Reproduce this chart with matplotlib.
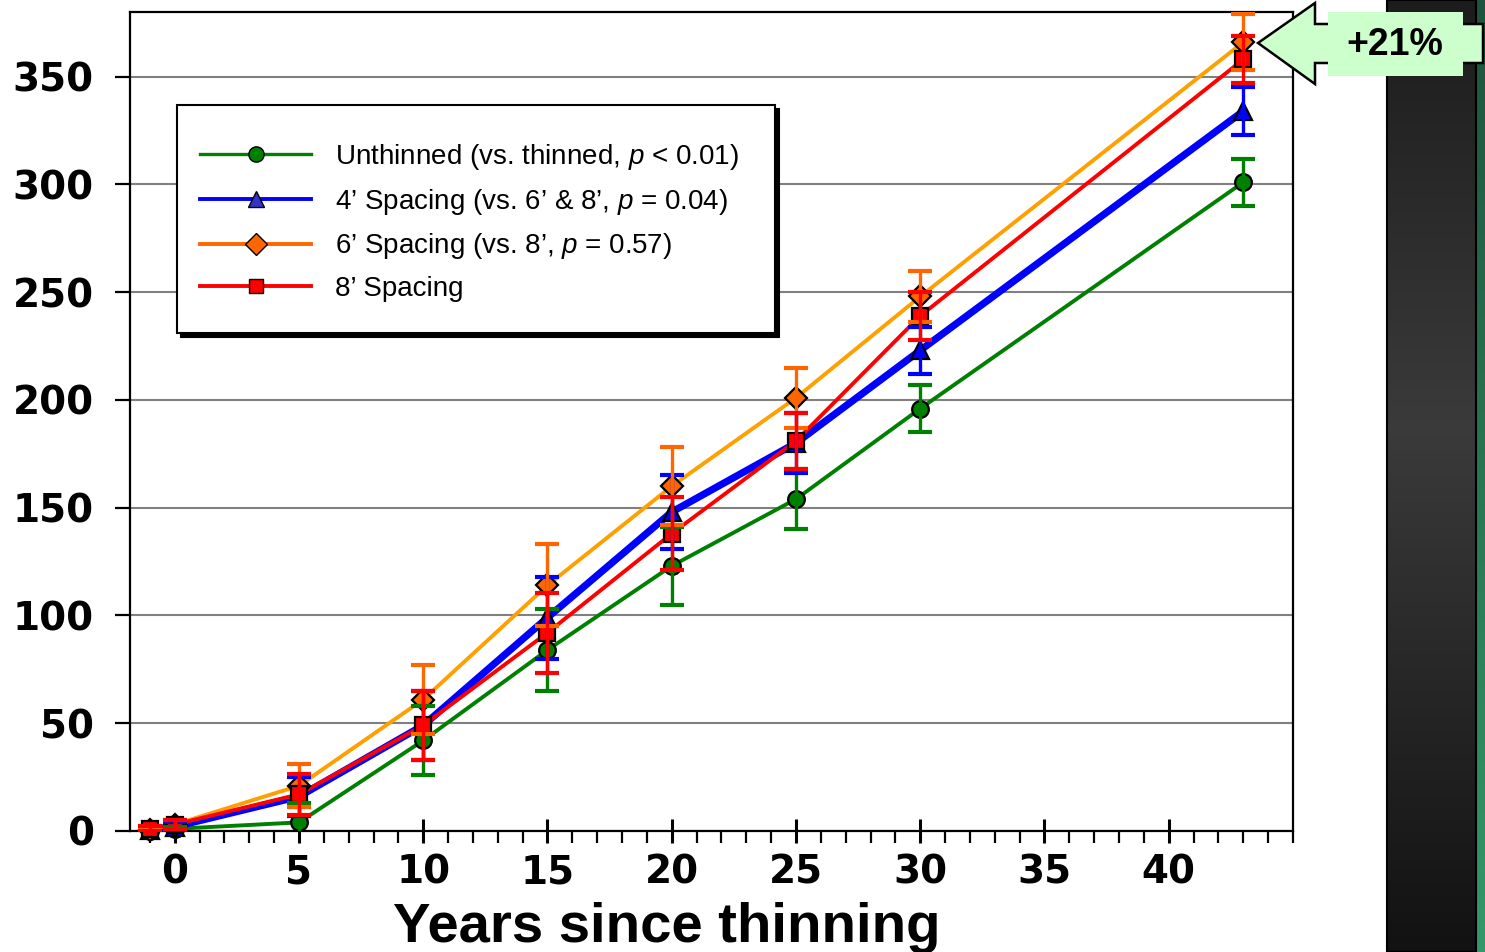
import matplotlib
matplotlib.use('Agg')
import matplotlib.pyplot as plt
import numpy as np
from matplotlib.lines import Line2D
from matplotlib.patches import Polygon, Rectangle
from matplotlib.ticker import MultipleLocator

plt.rcParams['font.family'] = ['Liberation Sans', 'DejaVu Sans']
plt.rcParams['mathtext.fontset'] = 'custom'
plt.rcParams['mathtext.it'] = 'Liberation Sans:italic'
plt.rcParams['mathtext.rm'] = 'Liberation Sans'

# ---------------- data ----------------
years = [-1, 0, 5, 10, 15, 20, 25, 30, 43]
unthinned = [0, 1, 4, 42, 84, 123, 154, 196, 301]
unthinned_err = [1, 1, 9, 16, 19, 18, 14, 11, 11]
spacing4 = [0.5, 2, 16, 49, 99, 148, 180, 223, 334]
spacing4_err = [1.5, 2, 9, 16, 19, 17, 14, 11, 11]
spacing6 = [0.5, 3, 21, 61, 114, 160, 201, 248, 366]
spacing6_err = [1.5, 2, 10, 16, 19, 18, 14, 12, 13]
spacing8 = [1, 3, 17, 49, 92, 138, 181, 239, 358]
spacing8_err = [1.5, 2, 9.5, 16, 18.5, 17, 13, 11, 11]

labels = ["Unthinned (vs. thinned, $p$ < 0.01)",
          "4\u2019 Spacing (vs. 6\u2019 & 8\u2019, $p$ = 0.04)",
          "6\u2019 Spacing (vs. 8\u2019, $p$ = 0.57)",
          "8\u2019 Spacing"]
x_ticks = [0, 5, 10, 15, 20, 25, 30, 35, 40]
y_ticks = [0, 50, 100, 150, 200, 250, 300, 350]
xlabel = "Years since thinning"
callout = "+21%"

W, H = 1485, 952
fig = plt.figure(figsize=(W / 100, H / 100), dpi=100)
fig.patch.set_facecolor('white')


def fx(px):
    return px / W


def fy(py):
    return 1 - py / H


# ---------------- decorative side panel ----------------
t = np.linspace(0, 1, 256)
gray = np.where(t < 0.45, 0.11 + (0.23 - 0.11) * t / 0.45,
                0.23 - (0.23 - 0.07) * (t - 0.45) / 0.55)
dark = np.dstack([gray, gray, gray]).reshape(256, 1, 3)
pax = fig.add_axes([fx(1387), 0, fx(1475) - fx(1387), 1], zorder=-5)
pax.imshow(dark, aspect='auto', extent=[0, 1, 0, 1], origin='upper')
pax.set_axis_off()
top_g = np.array([0.12, 0.33, 0.24])
bot_g = np.array([0.20, 0.60, 0.42])
green = (top_g[None, :] * (1 - t[:, None]) + bot_g[None, :] * t[:, None]).reshape(256, 1, 3)
gax = fig.add_axes([fx(1476), 0, 1 - fx(1476), 1], zorder=-5)
gax.imshow(green, aspect='auto', extent=[0, 1, 0, 1], origin='upper')
gax.set_axis_off()
fig.add_artist(Rectangle((fx(1387), 0), fx(1476) - fx(1387), 1, transform=fig.transFigure,
                         facecolor='none', edgecolor='black', linewidth=1.5, zorder=-4))

# ---------------- main axes ----------------
ax = fig.add_axes([fx(130), fy(831), fx(1293) - fx(130), (831 - 12) / H])
ax.set_xlim(-1.8, 45)
ax.set_ylim(0, 380)

series = [
    (unthinned, unthinned_err, '#008000', '#008000', 2.8, 'o', '#008000', 12),
    (spacing4, spacing4_err, '#0000FF', '#0000FF', 5.2, '^', '#0000FF', 12.5),
    (spacing6, spacing6_err, '#FFA000', '#FF6600', 2.8, 'D', '#FF6600', 11),
    (spacing8, spacing8_err, '#FF0000', '#FF0000', 2.8, 's', '#FF0000', 11.5),
]

for i, (vals, err, lc, ec, lw, mk, mfc, ms) in enumerate(series):
    ax.plot(years, vals, color=lc, linewidth=lw, zorder=3 + i * 0.1)
for i, (vals, err, lc, ec, lw, mk, mfc, ms) in enumerate(series):
    ax.plot(years, vals, linestyle='none', marker=mk, markersize=ms,
            markerfacecolor=mfc, markeredgecolor='black', markeredgewidth=1.6,
            zorder=4 + i * 0.1, clip_on=False)
for i, (vals, err, lc, ec, lw, mk, mfc, ms) in enumerate(series):
    ax.errorbar(years, vals, yerr=err, fmt='none', ecolor=ec, elinewidth=2.4,
                capsize=8.5, capthick=3, zorder=5 + i * 0.1)

ax.yaxis.grid(True, color='#808080', linewidth=1.5)
ax.set_axisbelow(True)
for s in ax.spines.values():
    s.set_linewidth(1.6)
    s.set_color('black')

ax.set_xticks(x_ticks)
ax.xaxis.set_minor_locator(MultipleLocator(1))
ax.set_yticks(y_ticks)
ax.tick_params(axis='x', which='major', direction='inout', length=17, width=2.2,
               pad=8, labelsize=28)
ax.tick_params(axis='x', which='minor', direction='out', length=8.5, width=1.6)
ax.tick_params(axis='y', which='major', direction='out', length=11, width=1.6,
               pad=15, labelsize=28)
for lab in ax.get_xticklabels() + ax.get_yticklabels():
    lab.set_fontweight('bold')
    lab.set_fontfamily('DejaVu Sans')

fig.text(fx(667), fy(942), xlabel, ha='center', va='baseline',
         fontsize=40.5, fontweight='bold')

# ---------------- legend (frame drawn as box with solid shadow) ----------------
fig.add_artist(Rectangle((fx(181), fy(337)), fx(775) - fx(177), (333 - 105) / H,
                         transform=fig.transFigure, facecolor='black',
                         edgecolor='black', linewidth=1.5, zorder=18))
fig.add_artist(Rectangle((fx(177), fy(333)), fx(775) - fx(177), (333 - 105) / H,
                         transform=fig.transFigure, facecolor='white',
                         edgecolor='black', linewidth=1.5, zorder=19))
handles = [
    Line2D([], [], color='#008000', linewidth=2.4, marker='o', markersize=11,
           markerfacecolor='#008000', markeredgecolor='black', markeredgewidth=1),
    Line2D([], [], color='#0000FF', linewidth=2.8, marker='^', markersize=11,
           markerfacecolor='#3333CC', markeredgecolor='black', markeredgewidth=1),
    Line2D([], [], color='#FF6600', linewidth=2.8, marker='D', markersize=11,
           markerfacecolor='#FF6600', markeredgecolor='black', markeredgewidth=1),
    Line2D([], [], color='#FF0000', linewidth=2.8, marker='s', markersize=10,
           markerfacecolor='#FF0000', markeredgecolor='black', markeredgewidth=1),
]
leg = fig.legend(handles, labels, loc='upper left',
                 bbox_to_anchor=(fx(200), fy(142)), bbox_transform=fig.transFigure,
                 fontsize=20, frameon=False,
                 borderpad=0, labelspacing=0.53, handlelength=4.0,
                 handletextpad=0.85, borderaxespad=0)
leg.set_zorder(20)

# ---------------- callout arrow ----------------
arrow_px = [(1258, 43), (1315, 3), (1315, 24), (1483, 24), (1483, 63),
            (1315, 63), (1315, 84)]
arrow = Polygon([(fx(x), fy(y)) for x, y in arrow_px], closed=True,
                transform=fig.transFigure, facecolor='#CCFFCC', edgecolor='black',
                linewidth=1.8, zorder=30)
fig.add_artist(arrow)
fig.add_artist(Rectangle((fx(1328), fy(76)), fx(1463) - fx(1328), (76 - 12) / H,
                         transform=fig.transFigure, facecolor='#CCFFCC',
                         edgecolor='none', zorder=31))
fig.text(fx(1395), fy(45), callout, ha='center', va='center', fontsize=27,
         fontweight='bold', zorder=32)

fig.savefig('out.png', dpi=100)
